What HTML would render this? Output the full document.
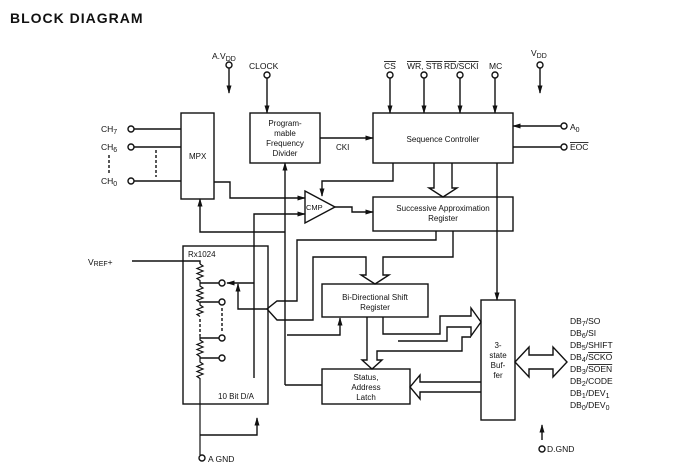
<!DOCTYPE html>
<html><head><meta charset="utf-8"><style>
html,body{margin:0;padding:0;background:#fff;}
svg{display:block;}
text{font-family:"Liberation Sans",sans-serif;fill:#111;}
</style></head><body>
<svg width="683" height="472" viewBox="0 0 683 472" xmlns="http://www.w3.org/2000/svg">
<defs>
<marker id="a" viewBox="0 0 10 10" refX="9" refY="5" markerWidth="6" markerHeight="6" orient="auto"><path d="M0,2 L10,5 L0,8z" fill="#111"/></marker>
</defs>
<text x="10" y="23" font-size="14" font-weight="bold" letter-spacing="1">BLOCK DIAGRAM</text>
<g fill="none" stroke="#111" stroke-width="1.4">
<rect x="181" y="113" width="33" height="86"/>
<rect x="250" y="113" width="70" height="50"/>
<rect x="373" y="113" width="140" height="50"/>
<rect x="373" y="197" width="140" height="34"/>
<rect x="183" y="246" width="85" height="158"/>
<rect x="322" y="284" width="106" height="33"/>
<rect x="322" y="369" width="88" height="35"/>
<rect x="481" y="300" width="34" height="120"/>
<path d="M305,191 L335,207 L305,223z"/>
<circle cx="131" cy="129" r="3"/><path d="M134,129H181"/>
<circle cx="131" cy="147" r="3"/><path d="M134,147H181"/>
<circle cx="131" cy="181" r="3"/><path d="M134,181H181"/>
<path d="M156,150V177M109,155V174" stroke-dasharray="3,2"/>
<circle cx="229" cy="65" r="3"/><path d="M229,68V93" marker-end="url(#a)"/>
<circle cx="267" cy="75" r="3"/><path d="M267,78V113" marker-end="url(#a)"/>
<path d="M320,138H373" marker-end="url(#a)"/>
<circle cx="390" cy="75" r="3"/><path d="M390,78V113" marker-end="url(#a)"/>
<circle cx="424" cy="75" r="3"/><path d="M424,78V113" marker-end="url(#a)"/>
<circle cx="460" cy="75" r="3"/><path d="M460,78V113" marker-end="url(#a)"/>
<circle cx="495" cy="75" r="3"/><path d="M495,78V113" marker-end="url(#a)"/>
<circle cx="540" cy="65" r="3"/><path d="M540,68V93" marker-end="url(#a)"/>
<circle cx="564" cy="126" r="3"/><path d="M561,126H513" marker-end="url(#a)"/>
<circle cx="564" cy="147" r="3"/><path d="M561,147H513"/>
<path d="M434,163V188H429L443,197L457,188H452V163"/>
<path d="M214,182H230V198H305" marker-end="url(#a)"/>
<path d="M254,378V214H305" marker-end="url(#a)"/>
<path d="M335,207H352V212H373" marker-end="url(#a)"/>
<path d="M393,163V181H322V196" marker-end="url(#a)"/>
<path d="M285,232H200V199" marker-end="url(#a)"/>
<path d="M285,385V163" marker-end="url(#a)"/>
<path d="M285,385H322"/>
<path d="M287,335H340V318" marker-end="url(#a)"/>
<path d="M436,231V240H297V301H277L267,309L277,320H313V257H366V275H361L375,284L389,275H383V257H453V231"/>
<!-- resistor ladder -->
<path d="M132,261H200V264"/>
<path d="M200,264 l3,2 l-6,2.5 l6,2.5 l-6,2.5 l6,2.5 l-6,2.5 l3,2 V286 l3,2 l-6,2.5 l6,2.5 l-6,2.5 l6,2.5 l-6,2.5 l3,2 V305 l3,2 l-6,2.5 l6,2.5 l-6,2.5 l3,2" stroke-width="1.2"/>
<path d="M200,319V336" stroke-dasharray="3,2"/>
<path d="M200,336 V340 l3,2 l-6,2.5 l6,2.5 l-6,2.5 l6,2.5 l-6,2.5 l3,2 V362 l3,2 l-6,2.5 l6,2.5 l-6,2.5 l6,2.5 l-6,2.5 l3,2 V455" stroke-width="1.2"/>
<path d="M200,283H219M200,302H219M200,338H219M200,358H219"/>
<circle cx="222" cy="283" r="3"/><circle cx="222" cy="302" r="3"/><circle cx="222" cy="338" r="3"/><circle cx="222" cy="358" r="3"/>
<path d="M222,308V332" stroke-dasharray="3,2"/>
<path d="M254,283H227" marker-end="url(#a)"/>
<path d="M267,309H238V284" marker-end="url(#a)"/>
<path d="M200,435H257V418" marker-end="url(#a)"/>
<circle cx="202" cy="458" r="3"/>
<path d="M497,163V300" marker-end="url(#a)"/>
<path d="M383,317V334H440V316H471V308L481,322L471,336V327H447V341H398"/>
<path d="M367,317V360H362L372,369L382,360H377V351H462V337H471"/>
<path d="M481,382H420V375L410,387L420,399V392H481"/>
<path d="M515,362L529,347V355H553V347L567,362L553,377V369H529V377z"/>
<path d="M542,440V425" marker-end="url(#a)"/>
<circle cx="542" cy="449" r="3"/>
</g>
<g font-size="8.5">
<text x="212" y="59">A.V<tspan font-size="7" dy="2">DD</tspan></text>
<text x="249" y="69">CLOCK</text>
<text x="101" y="132">CH<tspan font-size="7" dy="2">7</tspan></text>
<text x="101" y="150">CH<tspan font-size="7" dy="2">6</tspan></text>
<text x="101" y="184">CH<tspan font-size="7" dy="2">0</tspan></text>
<text x="189" y="159" font-size="8">MPX</text>
<g font-size="8" text-anchor="middle">
<text x="285" y="126">Program-</text><text x="285" y="136">mable</text><text x="285" y="146">Frequency</text><text x="285" y="156">Divider</text>
<text x="443" y="142">Sequence Controller</text>
<text x="443" y="211">Successive Approximation</text><text x="443" y="221">Register</text>
<text x="375" y="300">Bi-Directional Shift</text><text x="375" y="310">Register</text>
<text x="366" y="380">Status,</text><text x="366" y="390">Address</text><text x="366" y="400">Latch</text>
<text x="498" y="348">3-</text><text x="498" y="358">state</text><text x="498" y="368">Buf-</text><text x="498" y="378">fer</text>
</g>
<text x="336" y="150" font-size="8">CKI</text>
<text x="306" y="210" font-size="7.5">CMP</text>
<text x="384" y="69" text-decoration="overline">CS</text>
<text x="407" y="69"><tspan text-decoration="overline">WR</tspan>, <tspan text-decoration="overline">STB</tspan></text>
<text x="444" y="69"><tspan text-decoration="overline">RD</tspan>/<tspan text-decoration="overline">SCKI</tspan></text>
<text x="489" y="69">MC</text>
<text x="531" y="56">V<tspan font-size="7" dy="2">DD</tspan></text>
<text x="570" y="130">A<tspan font-size="7" dy="2">0</tspan></text>
<text x="570" y="150" text-decoration="overline">EOC</text>
<text x="88" y="265">V<tspan font-size="7" dy="1">REF</tspan><tspan dy="-1">+</tspan></text>
<text x="188" y="257" font-size="8">Rx1024</text>
<text x="218" y="399" font-size="8">10 Bit D/A</text>
<text x="208" y="462">A GND</text>
<text x="547" y="452">D.GND</text>
<g font-size="8.5">
<text x="570" y="324">DB<tspan font-size="7" dy="2">7</tspan><tspan dy="-2">/SO</tspan></text>
<text x="570" y="336">DB<tspan font-size="7" dy="2">6</tspan><tspan dy="-2">/SI</tspan></text>
<text x="570" y="348">DB<tspan font-size="7" dy="2">5</tspan><tspan dy="-2">/SHIFT</tspan></text>
<text x="570" y="360">DB<tspan font-size="7" dy="2">4</tspan><tspan dy="-2">/</tspan><tspan text-decoration="overline">SCKO</tspan></text>
<text x="570" y="372">DB<tspan font-size="7" dy="2">3</tspan><tspan dy="-2">/</tspan><tspan text-decoration="overline">SOEN</tspan></text>
<text x="570" y="384">DB<tspan font-size="7" dy="2">2</tspan><tspan dy="-2">/CODE</tspan></text>
<text x="570" y="396">DB<tspan font-size="7" dy="2">1</tspan><tspan dy="-2">/DEV</tspan><tspan font-size="7" dy="2">1</tspan></text>
<text x="570" y="408">DB<tspan font-size="7" dy="2">0</tspan><tspan dy="-2">/DEV</tspan><tspan font-size="7" dy="2">0</tspan></text>
</g>
</g>
</svg>
</body></html>
